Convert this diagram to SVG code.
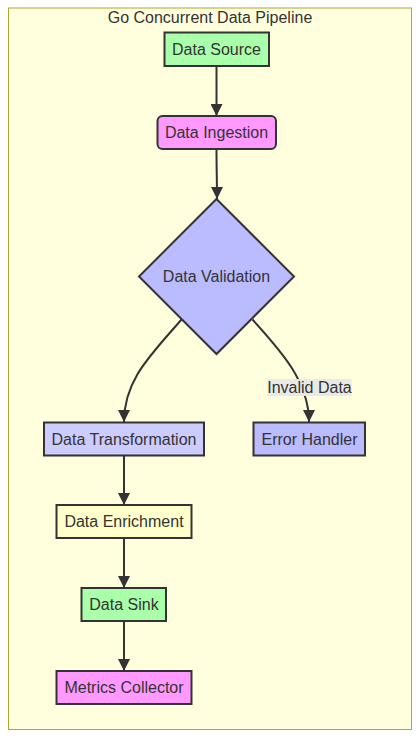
<svg xmlns="http://www.w3.org/2000/svg" width="420" height="738" viewBox="0 0 420 738">
<style>
.node{stroke:#333;stroke-width:2}
.t{font-family:"Liberation Sans",Arial,sans-serif;font-size:16px;fill:#333;text-anchor:middle;dominant-baseline:central}
.e{fill:none;stroke:#333;stroke-width:2;marker-end:url(#arr)}
</style>
<defs>
<marker id="arr" viewBox="0 0 10 10" refX="10" refY="5" markerUnits="userSpaceOnUse" markerWidth="12" markerHeight="12" orient="auto">
<path d="M0,0 L10,5 L0,10 z" fill="#333"/>
</marker>
</defs>
<g id="cluster">
<rect x="8.5" y="8" width="403" height="721.5" fill="#ffffde" stroke="#aaaa33" stroke-width="1"/>
<text class="t" x="210" y="17">Go Concurrent Data Pipeline</text>
</g>
<g id="edges">
<path class="e" d="M216.5,66 L216.5,116"/>
<path class="e" d="M216.5,149 C216.5,170 217,180 217,199"/>
<path class="e" d="M181.5,319.5 C150,356 124,380 124,422"/>
<path class="e" d="M252.5,319.5 C282,352 309,382 309,422"/>
<rect x="267.5" y="379" width="84" height="17" fill="#e8e8e8" opacity="0.95"/>
<text class="t" x="309.5" y="387.5">Invalid Data</text>
</g>
<g id="source">
<rect class="node" x="164.5" y="32.5" width="104.5" height="33.5" fill="#aaffaa"/>
<text class="t" x="216.5" y="49">Data Source</text>
</g>
<g id="ingestion">
<rect class="node" x="157.5" y="116" width="118.5" height="33" rx="5" fill="#ff99ff"/>
<text class="t" x="216.5" y="132.5">Data Ingestion</text>
</g>
<g id="validation">
<polygon class="node" points="216.5,199 294,276.5 216.5,354 139,276.5" fill="#bbbbff"/>
<text class="t" x="216.5" y="276.5">Data Validation</text>
</g>
<g id="transformation">
<rect class="node" x="44" y="422.5" width="160" height="33" fill="#ccccff"/>
<text class="t" x="124" y="439">Data Transformation</text>
</g>
<g id="error">
<rect class="node" x="253.5" y="422.5" width="111.5" height="33" fill="#bbbbff"/>
<text class="t" x="309.5" y="439">Error Handler</text>
</g>
<g id="enrichment">
<rect class="node" x="56.5" y="505" width="135" height="33" fill="#ffffcc"/>
<text class="t" x="124" y="521.5">Data Enrichment</text>
</g>
<g id="sink">
<rect class="node" x="81.5" y="588" width="84.5" height="33" fill="#aaffaa"/>
<text class="t" x="124" y="604.5">Data Sink</text>
</g>
<g id="metrics">
<rect class="node" x="56.5" y="671" width="135" height="33" fill="#ff99ff"/>
<text class="t" x="124" y="687.5">Metrics Collector</text>
</g>
<g id="edges2">
<path class="e" d="M124,455.5 L124,505"/>
<path class="e" d="M124,538 L124,588"/>
<path class="e" d="M124,621 L124,671"/>
</g>
</svg>
